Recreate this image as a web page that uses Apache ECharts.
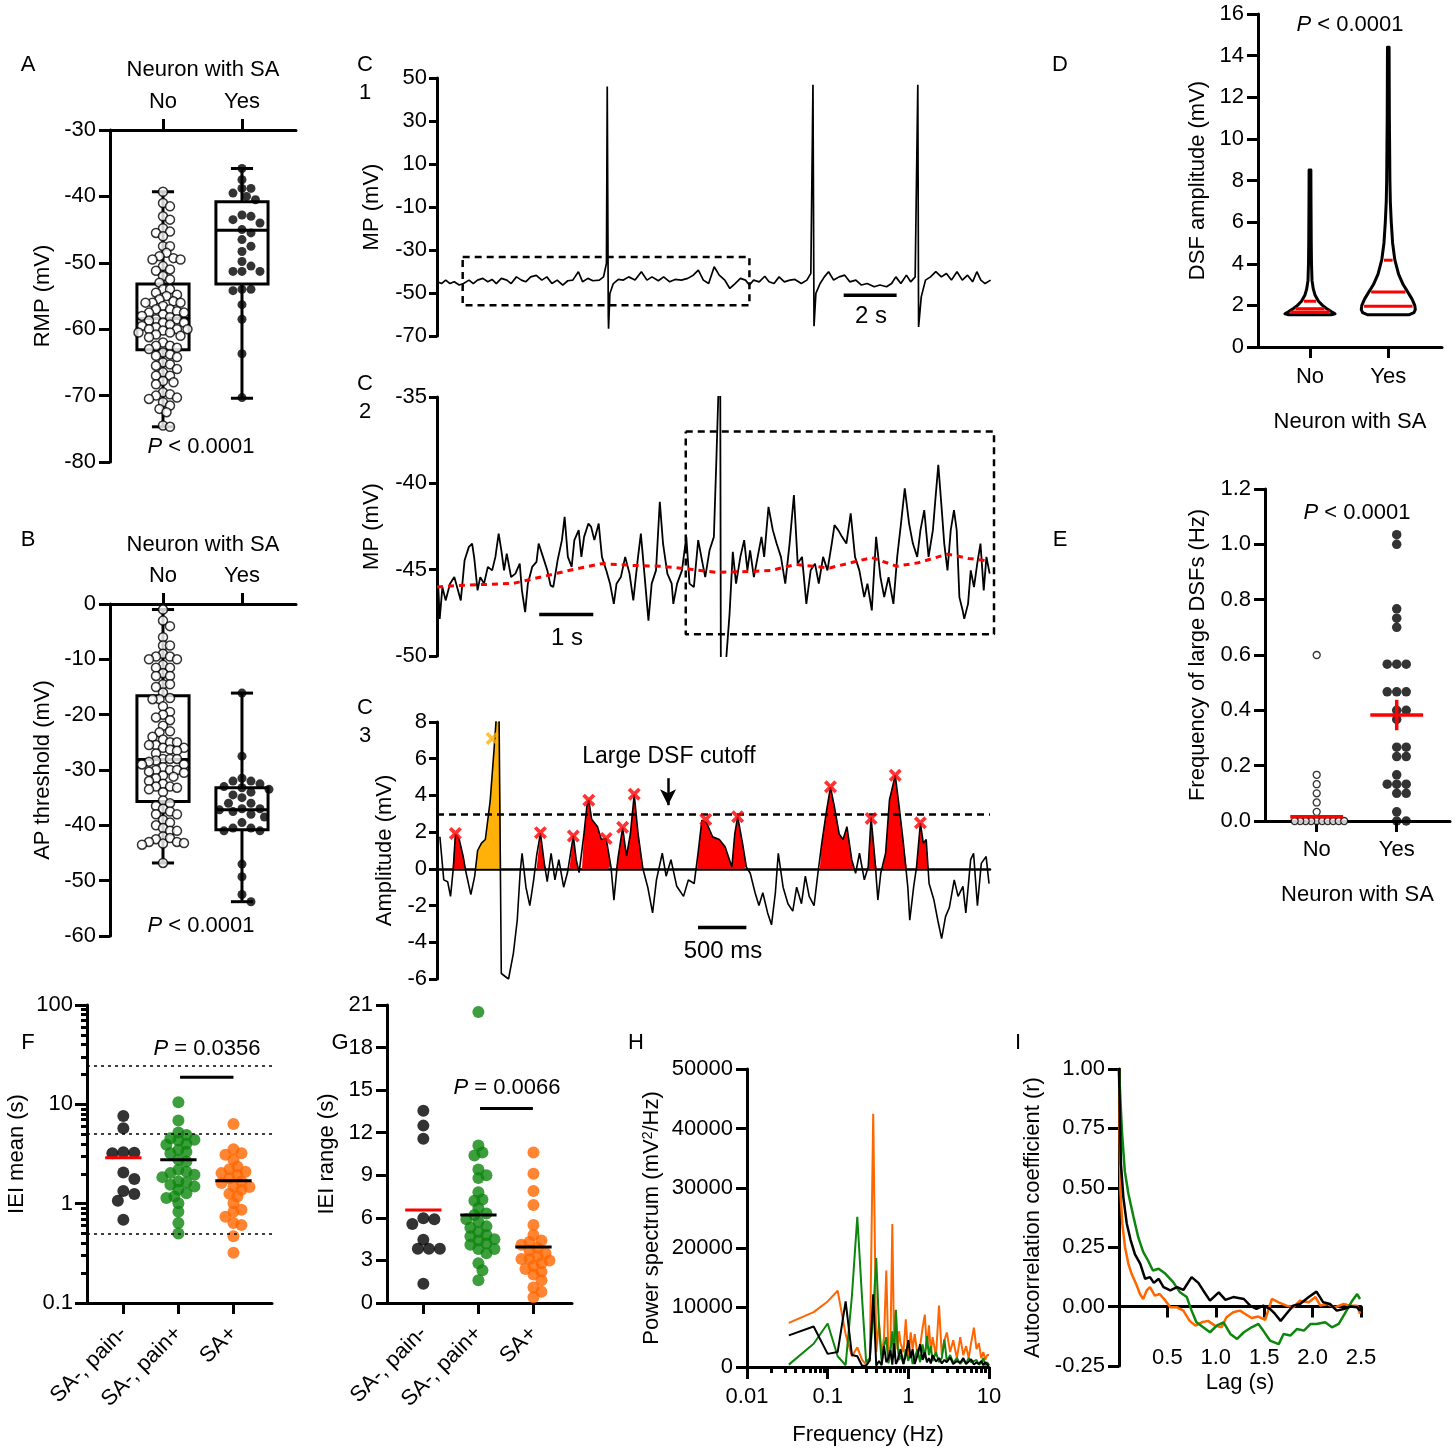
<!DOCTYPE html>
<html><head><meta charset="utf-8">
<script src="https://cdn.jsdelivr.net/npm/echarts@6.0.0/dist/echarts.min.js"></script>
<style>html,body{margin:0;padding:0;background:#fff}#c{width:1456px;height:1453px}</style>
</head><body><div id="c"></div>
<script>
// ---------------- DATA ----------------
const groupsNY = ['No', 'Yes'];
const groupsF = ['SA-, pain-', 'SA-, pain+', 'SA+'];

// Panel A: RMP (mV)
const aNo = [-39.3,-41,-41.5,-43,-43.5,-44.8,-45.3,-45.5,-46,-47.5,-47.5,-48.5,-49,-49.3,-49.5,-49.5,-50.5,-51,-51.2,-52,-52.5,-53,-54,-54,-54.5,-54.8,-55,-55.5,-55.8,-56,-56,-56,-56.5,-57,-57,-57.3,-57.5,-57.5,-57.8,-58,-58.2,-58.5,-58.5,-58.7,-59,-59,-59.3,-59.5,-59.7,-60,-60,-60,-60.2,-60.5,-60.5,-60.8,-61,-61.2,-62,-62.5,-62.5,-62.8,-63,-63.5,-63.8,-64,-64.2,-65,-65.3,-65.5,-66,-66.5,-67,-67,-67.8,-68,-68.3,-69.5,-69.8,-70,-70.3,-70.5,-71,-71.5,-72,-72.5,-74.5,-74.7];
const aYes = [-35.8,-37.5,-38.8,-38.8,-39.5,-40,-40.5,-42.8,-43,-43.5,-44,-45,-45.5,-46.5,-47.5,-48.3,-49.8,-50.5,-51.3,-51.3,-51.3,-54,-54,-54.2,-56.3,-58.5,-63.7,-70.3];
const aBoxNo = [-74.7,-63.1,-58.4,-53.2,-39.3];   // min, Q1, median, Q3, max
const aBoxYes = [-70.4,-53.2,-45.1,-40.8,-35.8];

// Panel B: AP threshold (mV)
const bNo = [-1,-3,-4,-6,-7.5,-7.5,-9,-9.5,-9.5,-10,-10,-11,-11.5,-11.5,-12.5,-13,-13,-14.5,-14.5,-15,-16,-17,-17.2,-17.2,-18.5,-19.5,-20,-20.5,-21,-22,-23,-23.2,-24,-24.5,-25,-25,-25.5,-25.5,-26,-26,-26.3,-26.5,-27,-28,-28,-28,-28.3,-28.5,-29,-29,-29.5,-30,-30,-30,-30.3,-30.5,-31,-31.2,-31.5,-32,-32.5,-33,-33,-33.2,-33.5,-34,-35.5,-36,-36.5,-37,-37.5,-38,-38,-39,-39.5,-40,-40.5,-41,-41,-42,-42.3,-42.5,-43,-43,-43.2,-43.3,-43.5,-46.8];
const bYes = [-16.1,-27.5,-31.5,-32,-32,-32.5,-33,-33.2,-33.5,-34,-34.5,-35,-36,-36,-37,-37,-37.2,-37.5,-38,-38.5,-39.5,-40.5,-40.5,-41,-41,-47,-49.3,-52.5,-53.8];
const bBoxNo = [-46.8,-35.7,-28.1,-16.6,-1.0];
const bBoxYes = [-53.8,-40.8,-37.2,-33.2,-16.1];

// Panel C1: membrane potential trace (s, mV)
const c1T = [0.02,0.17,0.33,0.49,0.65,0.84,1.00,1.21,1.37,1.53,1.73,1.92,2.08,2.24,2.43,2.64,2.80,3.00,3.19,3.35,3.54,3.75,3.96,4.15,4.34,4.54,4.75,4.94,5.13,5.34,5.50,5.70,5.89,6.13,6.29,6.40,6.43,6.47,6.48,6.53,6.66,6.85,7.04,7.24,7.48,7.72,7.93,8.12,8.36,8.56,8.79,8.99,9.23,9.47,9.68,9.87,10.06,10.26,10.47,10.66,10.87,11.06,11.26,11.46,11.65,11.80,11.96,12.17,12.38,12.54,12.73,12.92,13.12,13.33,13.52,13.76,13.97,14.12,14.20,14.24,14.31,14.47,14.63,14.79,14.98,15.19,15.40,15.59,15.82,16.03,16.25,16.51,16.73,16.98,17.17,17.33,17.52,17.73,17.89,18.06,18.16,18.19,18.29,18.45,18.64,18.84,19.05,19.24,19.43,19.64,19.84,20.04,20.23,20.39,20.54,20.70,20.91];
const c1V = [-44.8,-45.6,-44.0,-45.6,-44.8,-46.3,-45.6,-44.0,-45.6,-44.0,-43.2,-44.8,-43.7,-45.6,-43.2,-44.0,-45.6,-42.5,-44.0,-44.8,-42.5,-41.8,-44.0,-42.5,-45.6,-44.0,-46.3,-44.3,-44.0,-40.1,-44.8,-43.2,-44.3,-44.0,-42.5,-36.2,46.1,-61.1,-66.6,-50.2,-45.6,-43.7,-44.0,-42.5,-44.0,-40.1,-44.0,-42.5,-44.3,-42.5,-44.8,-43.7,-44.0,-43.2,-41.7,-39.4,-44.0,-45.6,-37.8,-41.7,-44.0,-47.9,-45.6,-43.2,-44.0,-46.3,-44.0,-44.8,-42.2,-44.8,-45.6,-42.5,-44.8,-44.0,-43.7,-45.6,-44.0,-40.9,46.9,-65.5,-50.2,-45.6,-42.5,-40.1,-44.0,-42.5,-41.7,-44.8,-44.0,-46.3,-45.6,-47.1,-46.3,-47.1,-45.6,-42.5,-45.6,-41.7,-44.8,-42.5,46.9,-65.8,-51.8,-44.0,-42.5,-40.1,-42.5,-40.9,-44.0,-40.1,-44.0,-41.7,-44.8,-40.1,-44.0,-45.6,-44.0];
const c1Box = [0.97, 11.8, -55.7, -33.2];   // t0, t1, v0, v1 (zoomed window)
const c1Bar = [15.36, 17.36, -51];          // 2 s scale bar

// Panel C2: zoomed trace (s, mV) and smoothed baseline
const c2T = [0.01,0.05,0.10,0.16,0.24,0.32,0.38,0.44,0.51,0.59,0.65,0.69,0.75,0.80,0.87,0.94,1.02,1.08,1.14,1.19,1.24,1.29,1.37,1.45,1.53,1.57,1.63,1.68,1.76,1.84,1.88,1.96,2.04,2.10,2.15,2.23,2.31,2.36,2.42,2.49,2.54,2.62,2.67,2.72,2.80,2.85,2.91,2.99,3.05,3.13,3.20,3.27,3.32,3.40,3.48,3.56,3.63,3.71,3.77,3.83,3.91,3.97,4.05,4.12,4.18,4.26,4.34,4.37,4.44,4.53,4.61,4.67,4.75,4.83,4.90,4.96,5.04,5.12,5.17,5.22,5.235,5.25,5.30,5.35,5.41,5.47,5.53,5.61,5.68,5.74,5.79,5.86,5.93,6.00,6.05,6.13,6.21,6.28,6.36,6.44,6.52,6.60,6.67,6.75,6.83,6.91,6.99,7.06,7.14,7.22,7.30,7.35,7.42,7.49,7.57,7.65,7.73,7.81,7.90,7.96,8.04,8.12,8.20,8.27,8.35,8.44,8.51,8.58,8.65,8.73,8.80,8.88,8.94,9.01,9.09,9.17,9.22,9.27,9.33,9.38,9.44,9.50,9.56,9.61,9.66,9.72,9.75,9.82,9.87,9.93,9.99,10.05,10.11,10.16,10.22];
const c2V = [-45.04,-47.85,-46.01,-46.78,-45.81,-45.43,-46.10,-46.78,-44.46,-43.68,-43.49,-44.36,-46.20,-45.43,-45.81,-44.84,-45.04,-44.26,-42.91,-43.88,-45.04,-44.07,-45.43,-45.23,-44.65,-46.20,-47.46,-45.81,-44.84,-44.55,-43.49,-44.26,-45.04,-45.91,-46.01,-44.46,-43.29,-41.94,-44.26,-44.84,-43.29,-42.71,-44.26,-43.10,-42.33,-42.52,-43.29,-42.33,-44.26,-45.04,-45.81,-46.98,-45.81,-45.43,-44.26,-45.23,-46.78,-44.46,-42.91,-45.04,-47.95,-45.81,-45.04,-41.07,-43.49,-45.23,-45.81,-46.98,-45.81,-45.04,-43.10,-45.81,-46.01,-43.29,-44.46,-45.43,-43.88,-43.10,-38.26,-33.0,-30.0,-52.0,-52.0,-50.08,-47.56,-43.97,-45.81,-44.26,-43.29,-45.04,-43.88,-45.43,-44.26,-43.10,-44.26,-41.36,-42.71,-43.49,-44.26,-45.81,-43.49,-40.68,-44.65,-44.26,-46.98,-45.04,-44.65,-45.81,-44.26,-45.04,-43.49,-42.42,-42.71,-43.10,-43.49,-41.74,-44.26,-45.04,-46.59,-45.81,-47.36,-43.10,-45.43,-46.59,-45.43,-46.98,-44.26,-42.33,-40.29,-42.33,-43.49,-44.26,-42.71,-41.55,-44.26,-42.71,-40.78,-38.93,-41.36,-43.49,-45.04,-42.71,-41.55,-42.71,-46.59,-47.36,-47.85,-46.98,-45.04,-46.01,-44.65,-43.49,-46.20,-44.26,-45.23];
const c2BaseT = [0,0.5,1.4,1.96,2.5,3.05,3.6,4.14,4.76,5.15,5.85,6.17,6.63,7.26,7.65,8.04,8.5,8.9,9.44,9.83,10.2];
const c2BaseV = [-46.0,-45.9,-45.8,-45.4,-45.0,-44.65,-44.75,-44.8,-45.0,-45.15,-45.1,-45.05,-44.7,-44.9,-44.6,-44.3,-44.8,-44.6,-44.1,-44.35,-44.5];
const c2Box = [4.6, 10.3, -48.74, -37.0];
const c2Bar = [1.89, 2.89, -47.6];          // 1 s scale bar

// Panel C3: detrended amplitude (s, mV)
const c3T = [0.03,0.07,0.11,0.14,0.17,0.19,0.23,0.27,0.30,0.35,0.39,0.42,0.46,0.50,0.55,0.59,0.61,0.64,0.66,0.665,0.74,0.79,0.83,0.86,0.88,0.92,0.96,1.00,1.03,1.07,1.11,1.14,1.18,1.22,1.26,1.31,1.35,1.41,1.44,1.47,1.52,1.55,1.57,1.60,1.66,1.70,1.75,1.80,1.83,1.87,1.92,1.96,2.00,2.04,2.08,2.13,2.18,2.23,2.27,2.33,2.37,2.42,2.48,2.55,2.60,2.66,2.70,2.74,2.79,2.85,2.92,2.98,3.05,3.08,3.11,3.16,3.20,3.24,3.29,3.33,3.37,3.42,3.46,3.50,3.53,3.58,3.63,3.68,3.72,3.77,3.81,3.85,3.90,3.94,3.98,4.03,4.07,4.11,4.16,4.20,4.24,4.29,4.33,4.37,4.42,4.46,4.49,4.53,4.56,4.59,4.64,4.68,4.74,4.78,4.82,4.87,4.89,4.93,4.96,5.00,5.03,5.06,5.09,5.14,5.18,5.22,5.26,5.30,5.35,5.39,5.44,5.47,5.52,5.55,5.59,5.63,5.68,5.71];
const c3V = [1.75,-0.6,-0.7,-1.5,0.1,1.9,1.6,0.7,-0.2,-1.4,-0.4,1.0,1.4,1.6,3.7,6.5,8.0,9.5,9.5,-5.7,-6.0,-4.6,-2.8,-0.2,0.85,-1.0,-2.0,-0.6,0.7,1.95,0.3,-0.7,0.85,-0.6,0.5,-1.0,-0.2,1.8,0.5,-0.2,1.9,3.4,3.75,2.7,2.3,1.6,1.65,0.1,-1.7,0.5,2.25,0.7,1.9,4.05,1.9,0.0,-1.0,-2.4,-0.6,0.85,-0.4,0.5,-0.95,-1.5,-0.6,-0.8,0.85,2.65,2.5,1.75,1.6,1.2,0.1,1.9,2.85,1.4,0.1,-0.24,-1.3,-2.0,-1.3,-2.4,-3.05,-1.3,0.85,-1.0,-1.9,-2.3,-1.0,-1.9,-0.4,-1.5,-2.0,-0.24,1.4,3.2,4.45,3.4,1.9,1.6,2.3,0.5,-0.24,0.85,-0.6,0.1,2.8,0.5,-1.7,-0.24,0.85,3.75,5.1,3.4,1.6,-1.0,-2.8,-1.0,0.1,2.5,1.4,1.6,-0.8,-1.7,-2.8,-3.8,-2.6,-2.1,-0.6,-1.5,-0.95,-2.4,0.5,0.85,-2.0,0.3,0.67,-0.8];
const c3Windows = [[0.16,0.29],[1.03,1.13],[1.37,1.46],[1.50,1.82],[1.85,2.13],[2.69,3.21],[3.96,4.31],[4.46,4.55],[4.61,4.86],[4.96,5.08]];
const c3SpikeWindow = [0.40, 0.665];
const c3PeakT = [0.19,1.07,1.41,1.57,1.75,1.92,2.04,2.78,3.11,4.07,4.49,4.74,5.00];
const c3PeakV = [1.93,1.97,1.79,3.74,1.66,2.26,4.07,2.69,2.84,4.47,2.75,5.1,2.51];
const c3SpikePeak = [0.57, 7.1];
const c3Cutoff = 3;
const c3Arrow = [2.39, 4.94, 3.47];
const c3Bar = [2.70, 3.20, -3.2];           // 500 ms scale bar

// Panel D: violin profiles (level mV, relative density) and quartiles
const dNoLevels = [1.55,1.6,1.7,1.85,2.0,2.2,2.5,2.8,3.2,4.0,5.0,6.0,7.0,8.5];
const dNoDensity = [0.85,1.0,0.85,0.66,0.5,0.34,0.2,0.13,0.08,0.06,0.05,0.045,0.04,0.035];
const dNoQuart = [1.68,1.84,2.2];
const dYesLevels = [1.55,1.65,1.8,2.0,2.3,2.6,3.0,3.5,4.2,5.0,6.0,7.0,8.0,9.5,11,12.5,14.4];
const dYesDensity = [0.78,0.95,1.0,0.98,0.88,0.74,0.55,0.38,0.24,0.16,0.11,0.075,0.06,0.05,0.04,0.035,0.03];
const dYesQuart = [1.96,2.64,4.17];

// Panel E: frequency of large DSFs (Hz)
const eNo = [0.6,0.167,0.133,0.1,0.067,0.033,0,0,0,0,0,0,0,0,0,0];
const eYes = [1.035,1.0,0.767,0.733,0.7,0.567,0.567,0.567,0.467,0.467,0.467,0.4,0.4,0.367,0.267,0.267,0.233,0.233,0.167,0.133,0.133,0.133,0.1,0.1,0.033,0,0];
const eMean = [0.015, 0.383];
const eSem = [0.004, 0.055];

// Panel F: IEI mean (s)
const fBlack = [7.65,5.74,3.22,3.25,3.29,2.06,1.77,1.34,1.25,1.07,0.69];
const fGreen = [10.5,6.86,5.2,4.92,4.56,4.39,4.32,4.0,3.91,3.48,3.34,3.22,2.76,2.65,2.19,2.10,2.03,1.95,1.85,1.67,1.63,1.55,1.49,1.38,1.27,1.18,1.14,1.01,0.83,0.64,0.50];
const fOrange = [6.35,3.53,3.22,3.10,2.76,2.36,2.22,2.10,2.03,1.95,1.80,1.67,1.61,1.49,1.47,1.38,1.26,1.18,1.01,0.87,0.83,0.74,0.64,0.61,0.47,0.32];
const fMeans = [2.9, 2.76, 1.7];
const fGuides = [24.5, 5, 0.5];
const fSig = [2.03, 3.0, 18.7];

// Panel G: IEI range (s)
const gBlack = [13.54,12.5,11.57,5.91,5.98,5.56,4.46,3.82,3.82,3.82,1.36];
const gGreen = [20.5,11.1,10.6,10.4,9.4,9.0,8.8,7.8,7.3,7.2,6.7,6.3,6.2,5.9,5.7,5.4,5.3,5.0,4.8,4.7,4.5,4.4,4.2,4.1,3.8,3.8,3.5,2.8,2.3,1.6];
const gOrange = [10.6,9.1,7.9,6.9,5.5,4.8,4.4,4.3,4.1,3.9,3.7,3.5,3.3,3.1,3.1,3.0,2.8,2.6,2.4,2.2,2.0,1.6,1.1,0.8,0.4];
const gMeans = [6.55, 6.2, 3.95];
const gSig = [2.03, 2.99, 13.7];

// Panel H: power spectra (Hz, mV^2/Hz)
const hFreq = [0.033,0.067,0.1,0.133,0.167,0.2,0.233,0.267,0.3,0.333,0.367,0.4,0.433,0.467,0.5,0.533,0.567,0.6,0.633,0.667,0.7,0.733,0.767,0.8,0.87,0.93,1.0,1.07,1.13,1.2,1.3,1.4,1.5,1.6,1.7,1.8,1.9,2.0,2.2,2.4,2.6,2.8,3.0,3.3,3.6,4.0,4.4,4.8,5.2,5.6,6.0,6.5,7.0,7.5,8.0,8.5,9.0,9.5,10];
const hOrange = [7400,9200,11000,12800,5500,1800,3300,1200,400,1500,42500,2500,7500,2000,5000,16200,1500,3500,24000,2500,9500,3000,6000,4000,2500,8000,1500,5800,3000,5500,2000,3500,6500,8800,3000,7000,2500,5000,1800,10300,2000,4500,5800,2500,4500,1500,5000,2000,3500,1500,4000,6600,3000,4000,1500,2500,1200,2000,2000];
const hGreen = [400,3900,7300,1800,300,12000,25200,11500,800,1500,9000,18300,7000,800,3500,5000,600,2500,6000,1500,9600,4000,1200,2000,500,3000,1000,2500,500,1500,3000,800,3800,1500,5200,2000,3500,1000,2500,800,1500,4600,1000,2000,700,1500,500,1200,600,1500,800,1000,1200,400,700,1500,300,800,300];
const hBlack = [5300,6800,2200,2500,11000,2000,1800,200,200,1100,12200,200,1000,300,3500,800,1500,2800,400,4000,500,1000,700,3000,500,2000,4500,1500,3000,500,2000,3800,1200,2500,800,1500,600,2000,900,1500,600,1200,800,1600,500,1000,700,1500,500,900,1300,400,800,500,1000,300,800,400,200];

// Panel I: autocorrelation (lag s, r)
const iBlackT = [0,0.02,0.045,0.08,0.12,0.165,0.22,0.27,0.32,0.36,0.41,0.46,0.53,0.6,0.665,0.75,0.82,0.87,0.94,1.03,1.1,1.18,1.29,1.355,1.42,1.49,1.56,1.61,1.67,1.73,1.80,1.87,1.96,2.04,2.11,2.18,2.25,2.32,2.39,2.46,2.49];
const iBlackV = [1.0,0.60,0.46,0.35,0.28,0.22,0.18,0.117,0.124,0.10,0.117,0.082,0.068,0.082,0.07,0.124,0.10,0.068,0.025,0.06,0.028,0.04,0.032,0.004,-0.01,0.004,-0.01,-0.03,-0.06,-0.03,0.004,0.011,0.04,0.063,0.018,0.011,-0.017,-0.01,0,-0.003,-0.017];
const iGreenT = [0,0.03,0.06,0.097,0.15,0.2,0.25,0.30,0.35,0.41,0.48,0.56,0.63,0.7,0.75,0.80,0.87,0.94,1.01,1.08,1.15,1.22,1.29,1.37,1.44,1.49,1.56,1.65,1.70,1.77,1.84,1.91,1.98,2.04,2.13,2.2,2.27,2.34,2.41,2.46,2.49];
const iGreenV = [1.0,0.74,0.57,0.475,0.377,0.29,0.23,0.194,0.152,0.159,0.138,0.103,0.06,0.04,-0.017,-0.066,-0.087,-0.108,-0.08,-0.066,-0.115,-0.136,-0.108,-0.087,-0.073,-0.101,-0.143,-0.158,-0.115,-0.122,-0.094,-0.101,-0.073,-0.073,-0.066,-0.087,-0.073,-0.024,0.025,0.053,0.032];
const iOrangeT = [0,0.014,0.034,0.062,0.097,0.13,0.176,0.217,0.25,0.286,0.32,0.37,0.42,0.48,0.53,0.6,0.665,0.73,0.79,0.855,0.92,0.99,1.06,1.11,1.18,1.25,1.30,1.37,1.44,1.51,1.58,1.65,1.73,1.8,1.87,1.96,2.03,2.08,2.15,2.23,2.32,2.39,2.46,2.49];
const iOrangeV = [1.0,0.49,0.35,0.25,0.18,0.138,0.096,0.053,0.032,0.068,0.082,0.046,0.053,0.025,-0.003,-0.003,-0.017,-0.06,-0.08,-0.066,-0.06,-0.08,-0.087,-0.045,-0.024,-0.017,-0.03,-0.048,-0.042,-0.056,0.032,0.018,0.004,-0.003,0.025,0.018,0.04,0.004,0.011,-0.003,0.011,0.004,0.004,-0.03];

// ---------------- STYLE / HELPERS ----------------
const FONT = "'Liberation Sans', Arial, Helvetica, sans-serif";
const GREEN = '#0c860c', ORANGE = '#ff6600', RED = '#ff0000', AMBER = '#ffb10a';
const zip = (a, b) => a.map((v, i) => [v, b[i]]);
function merge(a, b) {
  const o = Object.assign({}, a);
  for (const k in b) {
    if (b[k] && typeof b[k] === 'object' && !Array.isArray(b[k]) && a[k] && typeof a[k] === 'object' && !Array.isArray(a[k])) o[k] = merge(a[k], b[k]);
    else o[k] = b[k];
  }
  return o;
}
const AX = {
  type: 'value', splitLine: {show: false},
  axisLine: {show: true, onZero: false, lineStyle: {color: '#000', width: 3}},
  axisTick: {show: true, length: 11, lineStyle: {color: '#000', width: 3}},
  axisLabel: {color: '#000', fontSize: 22, fontFamily: FONT, margin: 14},
  nameLocation: 'middle', nameTextStyle: {color: '#000', fontSize: 22, fontFamily: FONT}
};
const ax = (gi, o) => merge(merge(AX, {gridIndex: gi}), o);
const logLabel = v => String(+(+v).toPrecision(3));
function minorLog(lo, hi) { const out = []; for (let e = lo; e < hi; e++) for (let m = 2; m <= 9; m++) out.push(+(m * Math.pow(10, e)).toPrecision(3)); return out; }

// beeswarm: offsets computed in pixel space so dots do not overlap too much
function swarm(vals, cx, ppuX, ppuY, d, logY) {
  const idx = vals.map((v, i) => i).sort((a, b) => vals[b] - vals[a]);
  const placed = [], out = [];
  idx.forEach(i => {
    const y = (logY ? Math.log10(vals[i]) : vals[i]) * ppuY;
    let best = 0;
    for (let s = 0; s < 400; s++) {
      const k = Math.ceil(s / 2), c = s === 0 ? 0 : (s % 2 === 1 ? 1 : -1) * k * d * 0.5;
      if (placed.every(q => { const dx = q[0] - c, dy = q[1] - y; return dx * dx + dy * dy >= d * d * 0.9; })) { best = c; break; }
    }
    placed.push([best, y]);
    out.push([cx + best / ppuX, vals[i]]);
  });
  return out;
}
function interp(xs, ys, x) {
  for (let i = 0; i < xs.length - 1; i++) if (x >= xs[i] && x <= xs[i + 1]) return ys[i] + (ys[i + 1] - ys[i]) * (x - xs[i]) / (xs[i + 1] - xs[i]);
  return ys[ys.length - 1];
}
const lineS = (gi, data, color, width, extra) => Object.assign({type: 'line', xAxisIndex: gi, yAxisIndex: gi, data, symbol: 'none', showSymbol: false, clip: true, silent: true, lineStyle: {color, width}, z: 3}, extra || {});
function boxRender(params, api) {
  const x = api.value(0), mn = api.value(1), q1 = api.value(2), md = api.value(3), q3 = api.value(4), mx = api.value(5);
  const L = (x1, y1, x2, y2) => { const a = api.coord([x1, y1]), b = api.coord([x2, y2]); return {type: 'line', shape: {x1: a[0], y1: a[1], x2: b[0], y2: b[1]}, style: {stroke: '#000', lineWidth: 3}}; };
  const hw = 0.33, cw = 0.14;
  const tl = api.coord([x - hw, q3]), br = api.coord([x + hw, q1]);
  return {type: 'group', children: [
    {type: 'rect', shape: {x: tl[0], y: tl[1], width: br[0] - tl[0], height: br[1] - tl[1]}, style: {fill: 'none', stroke: '#000', lineWidth: 3}},
    L(x - hw, md, x + hw, md), L(x, q3, x, mx), L(x, q1, x, mn), L(x - cw, mx, x + cw, mx), L(x - cw, mn, x + cw, mn)]};
}
const boxS = (gi, boxes) => ({type: 'custom', xAxisIndex: gi, yAxisIndex: gi, silent: true, z: 2, data: boxes.map((b, i) => [i + 1].concat(b)), renderItem: boxRender});
const openDot = {color: '#fff', borderColor: '#000', borderWidth: 1.5};
const dotS = (gi, data, size, style, z) => ({type: 'scatter', xAxisIndex: gi, yAxisIndex: gi, data, symbolSize: size, itemStyle: style, silent: true, z: z || 4});
function meanS(gi, means, colors, hw) {
  return {type: 'custom', xAxisIndex: gi, yAxisIndex: gi, silent: true, z: 6, data: means.map((m, i) => [i + 1, m]),
    renderItem: (p, api) => { const x = api.value(0), y = api.value(1); const a = api.coord([x - hw, y]), b = api.coord([x + hw, y]);
      return {type: 'line', shape: {x1: a[0], y1: a[1], x2: b[0], y2: b[1]}, style: {stroke: colors[p.dataIndex], lineWidth: 3}}; }};
}
const XSYM = 'path://M0,2L2,0L5,3L8,0L10,2L7,5L10,8L8,10L5,7L2,10L0,8L3,5Z';

// fill series for C3 (trace parts inside event windows, clipped at 0)
function fillData(win) {
  const out = [[win[0], 0]];
  c3T.forEach((t, i) => { if (t > win[0] && t < win[1]) out.push([t, Math.max(0, c3V[i])]); });
  out.push([win[1], 0]);
  return out;
}

// ---------------- LAYOUT ----------------
const grids = [
  {left: 110, top: 130, width: 186, height: 332},  // A
  {left: 110, top: 604, width: 186, height: 332},  // B
  {left: 437, top: 78, width: 556, height: 258},   // C1
  {left: 437, top: 397, width: 557, height: 259},  // C2
  {left: 437, top: 722, width: 553, height: 257},  // C3
  {left: 1258, top: 14, width: 184, height: 333},  // D
  {left: 1265, top: 489, width: 185, height: 332}, // E
  {left: 87, top: 1005, width: 185, height: 298},  // F
  {left: 387, top: 1005, width: 185, height: 298}, // G
  {left: 747, top: 1069, width: 242, height: 298}, // H
  {left: 1119, top: 1069, width: 242, height: 297} // I
].map(g => Object.assign({outerBoundsMode: 'none', containLabel: false}, g));

const catNY = (gi, min, max, extra) => ax(gi, merge({min, max, axisTick: {customValues: [1, 2]}, axisLabel: {customValues: [1, 2], formatter: v => groupsNY[Math.round(v) - 1] || ''}}, extra));
const catF = (gi) => ax(gi, {min: 0.34, max: 3.70, axisTick: {customValues: [1, 2, 3]}, axisLabel: {customValues: [1, 2, 3], rotate: 45, margin: 27, formatter: v => groupsF[Math.round(v) - 1] || ''}});

const xAxis = [
  catNY(0, 0.329, 2.684, {position: 'top', axisLabel: {margin: 17}, name: 'Neuron with SA', nameGap: 49}),
  catNY(1, 0.329, 2.684, {position: 'top', axisLabel: {margin: 17}, name: 'Neuron with SA', nameGap: 48}),
  {gridIndex: 2, type: 'value', min: 0, max: 21, show: false},
  {gridIndex: 3, type: 'value', min: 0, max: 10.3, show: false},
  ax(4, {min: 0, max: 5.72, axisLine: {onZero: true, lineStyle: {width: 2.5}}, axisTick: {show: false}, axisLabel: {show: false}}),
  catNY(5, 0.336, 2.686, {axisLabel: {margin: 19}, name: 'Neuron with SA', nameGap: 64}),
  catNY(6, 0.354, 2.666, {axisLabel: {margin: 18}, name: 'Neuron with SA', nameGap: 63}),
  catF(7), catF(8),
  ax(9, {type: 'log', logBase: 10, min: 0.01, max: 10, axisTick: {length: 12}, axisLabel: {margin: 19, formatter: logLabel}, name: 'Frequency (Hz)', nameGap: 57}),
  ax(10, {min: 0, max: 2.5, interval: 0.5, axisLine: {onZero: true}, axisLabel: {margin: -19, formatter: v => v === 0 ? '' : v.toFixed(1)}, name: 'Lag (s)', nameGap: 6}),
  ax(9, {type: 'log', logBase: 10, min: 0.01, max: 10, position: 'bottom', axisLine: {show: false}, axisTick: {customValues: minorLog(-2, 1), length: 6}, axisLabel: {show: false}})
];
const cY = {axisTick: {length: 8}, axisLabel: {margin: 10}};
const yAxis = [
  ax(0, {min: -80, max: -30, interval: 10, name: 'RMP (mV)', nameGap: 56}),
  ax(1, {min: -60, max: 0, interval: 10, name: 'AP threshold (mV)', nameGap: 56}),
  ax(2, merge(cY, {min: -70, max: 50, interval: 20, name: 'MP (mV)', nameGap: 54})),
  ax(3, merge(cY, {min: -50, max: -35, interval: 5, name: 'MP (mV)', nameGap: 54})),
  ax(4, merge(cY, {min: -6, max: 8, interval: 2, name: 'Amplitude (mV)', nameGap: 41})),
  ax(5, {min: 0, max: 16, interval: 2, name: 'DSF amplitude (mV)', nameGap: 49}),
  ax(6, {min: 0, max: 1.2, interval: 0.2, axisLabel: {formatter: v => v.toFixed(1)}, name: 'Frequency of large DSFs (Hz)', nameGap: 56}),
  ax(7, {type: 'log', logBase: 10, min: 0.1, max: 100, axisTick: {length: 12}, axisLabel: {formatter: logLabel}, name: 'IEI mean (s)', nameGap: 59}),
  ax(8, {min: 0, max: 21, interval: 3, name: 'IEI range (s)', nameGap: 49}),
  ax(9, {min: 0, max: 50000, interval: 10000, axisLabel: {formatter: v => String(v)}, name: 'Power spectrum (mV{s|2}/Hz)', nameGap: 84,
    nameTextStyle: {rich: {s: {fontSize: 14, fontFamily: FONT, color: '#000', verticalAlign: 'top', lineHeight: 14}}}}),
  ax(10, {min: -0.25, max: 1, interval: 0.25, axisLabel: {formatter: v => v.toFixed(2)}, name: 'Autocorrelation coefficient (r)', nameGap: 75}),
  ax(7, {type: 'log', logBase: 10, min: 0.1, max: 100, position: 'left', axisLine: {show: false}, axisTick: {customValues: minorLog(-1, 2), length: 6}, axisLabel: {show: false}})
];

// ---------------- SERIES ----------------
const dash = [7, 5];
const series = [];
// A, B
series.push(boxS(0, [aBoxNo, aBoxYes]));
series.push(dotS(0, swarm(aNo, 1, 79, 6.64, 7), 9, openDot));
series.push(dotS(0, swarm(aYes, 2, 79, 6.64, 9), 9, {color: '#000'}));
series.push(boxS(1, [bBoxNo, bBoxYes]));
series.push(dotS(1, swarm(bNo, 1, 79, 5.533, 7), 9, openDot));
series.push(dotS(1, swarm(bYes, 2, 79, 5.533, 9), 9, {color: '#000'}));
// C1
series.push(lineS(2, zip(c1T, c1V), '#000', 1.7));
series.push(lineS(2, [[c1Box[0], c1Box[3]], [c1Box[1], c1Box[3]], [c1Box[1], c1Box[2]], [c1Box[0], c1Box[2]], [c1Box[0], c1Box[3]]], '#000', 2.5, {lineStyle: {color: '#000', width: 2.5, type: dash}, z: 4}));
series.push(lineS(2, [[c1Bar[0], c1Bar[2]], [c1Bar[1], c1Bar[2]]], '#000', 3.5));
// C2
series.push(lineS(3, zip(c2T, c2V), '#000', 1.8));
series.push(lineS(3, zip(c2BaseT, c2BaseV), RED, 3, {lineStyle: {color: RED, width: 3, type: [6, 5]}, z: 4}));
series.push(lineS(3, [[c2Box[0], c2Box[3]], [c2Box[1], c2Box[3]], [c2Box[1], c2Box[2]], [c2Box[0], c2Box[2]], [c2Box[0], c2Box[3]]], '#000', 2.5, {lineStyle: {color: '#000', width: 2.5, type: dash}, z: 4}));
series.push(lineS(3, [[c2Bar[0], c2Bar[2]], [c2Bar[1], c2Bar[2]]], '#000', 3.5));
// C3
c3Windows.forEach(w => series.push(lineS(4, fillData(w), RED, 0, {areaStyle: {color: RED, opacity: 1}, z: 2})));
series.push(lineS(4, fillData(c3SpikeWindow), AMBER, 0, {areaStyle: {color: AMBER, opacity: 1}, z: 2}));
series.push(lineS(4, zip(c3T, c3V), '#000', 1.6, {markLine: {silent: true, symbol: 'none', label: {show: false}, lineStyle: {color: '#000', width: 2.5, type: dash}, data: [{yAxis: c3Cutoff}]}}));
series.push(lineS(4, [[c3Bar[0], c3Bar[2]], [c3Bar[1], c3Bar[2]]], '#000', 3.5));
series.push({type: 'scatter', xAxisIndex: 4, yAxisIndex: 4, data: zip(c3PeakT, c3PeakV), symbol: XSYM, symbolSize: 13, itemStyle: {color: RED}, silent: true, z: 6,
  markLine: {silent: true, symbol: ['none', 'arrow'], symbolSize: [12, 16], label: {show: false}, lineStyle: {color: '#000', width: 2.5, type: 'solid'},
    data: [[{coord: [c3Arrow[0], c3Arrow[1]]}, {coord: [c3Arrow[0], c3Arrow[2]]}]]}});
series.push({type: 'scatter', xAxisIndex: 4, yAxisIndex: 4, data: [c3SpikePeak], symbol: XSYM, symbolSize: 13, itemStyle: {color: AMBER}, silent: true, z: 6});
// D violins
const violins = [{x: 1, lev: dNoLevels, w: dNoDensity, q: dNoQuart, hw: 0.32}, {x: 2, lev: dYesLevels, w: dYesDensity, q: dYesQuart, hw: 0.345}];
series.push({type: 'custom', xAxisIndex: 5, yAxisIndex: 5, silent: true, z: 3, data: violins.map(v => [v.x, v.lev[0]]),
  renderItem: (p, api) => {
    const v = violins[p.dataIndex];
    const right = v.lev.map((y, i) => api.coord([v.x + v.w[i] * v.hw, y]));
    const left = v.lev.map((y, i) => api.coord([v.x - v.w[i] * v.hw, y])).reverse();
    const kids = [{type: 'polygon', shape: {points: right.concat(left)}, style: {fill: '#fff', stroke: '#000', lineWidth: 3, lineJoin: 'round'}}];
    v.q.forEach(q => {
      const w = Math.max(0.01, interp(v.lev, v.w, q) * v.hw - 0.03);
      const a = api.coord([v.x - w, q]), b = api.coord([v.x + w, q]);
      kids.push({type: 'line', shape: {x1: a[0], y1: a[1], x2: b[0], y2: b[1]}, style: {stroke: RED, lineWidth: 3}});
    });
    return {type: 'group', children: kids};
  }});
// E
series.push(dotS(6, swarm(eNo, 1, 80, 276.2, 5.5), 7, {color: '#fff', borderColor: '#000', borderWidth: 1.3}));
series.push(dotS(6, swarm(eYes, 2, 80, 276.2, 9.5), 9.5, {color: '#000'}));
series.push({type: 'custom', xAxisIndex: 6, yAxisIndex: 6, silent: true, z: 6, data: eMean.map((m, i) => [i + 1, m, eSem[i]]),
  renderItem: (p, api) => {
    const x = api.value(0), m = api.value(1), s = api.value(2), hw = 0.33;
    const a = api.coord([x - hw, m]), b = api.coord([x + hw, m]), c = api.coord([x, m + s]), d = api.coord([x, m - s]);
    return {type: 'group', children: [
      {type: 'line', shape: {x1: a[0], y1: a[1], x2: b[0], y2: b[1]}, style: {stroke: RED, lineWidth: 3.5}},
      {type: 'line', shape: {x1: c[0], y1: c[1], x2: d[0], y2: d[1]}, style: {stroke: RED, lineWidth: 3.5}}]};
  }});
// F
series.push(Object.assign(dotS(7, swarm(fBlack, 1, 55, 99.4, 11, true), 12, {color: '#000'}),
  {markLine: {silent: true, symbol: 'none', label: {show: false}, lineStyle: {color: '#000', width: 1.6, type: [3, 4]}, data: fGuides.map(v => ({yAxis: v}))}}));
series.push(dotS(7, swarm(fGreen, 2, 55, 99.4, 8, true), 12, {color: GREEN}));
series.push(dotS(7, swarm(fOrange, 3, 55, 99.4, 8, true), 12, {color: ORANGE}));
series.push(meanS(7, fMeans, [RED, '#000', '#000'], 0.33));
series.push(lineS(7, [[fSig[0], fSig[2]], [fSig[1], fSig[2]]], '#000', 3));
// G
series.push(dotS(8, swarm(gBlack, 1, 55, 14.2, 11), 12, {color: '#000'}));
series.push(dotS(8, swarm(gGreen, 2, 55, 14.2, 8), 12, {color: GREEN}));
series.push(dotS(8, swarm(gOrange, 3, 55, 14.2, 8), 12, {color: ORANGE}));
series.push(meanS(8, gMeans, [RED, '#000', '#000'], 0.33));
series.push(lineS(8, [[gSig[0], gSig[2]], [gSig[1], gSig[2]]], '#000', 3));
// H
series.push(lineS(9, zip(hFreq, hOrange), ORANGE, 2, {z: 3}));
series.push(lineS(9, zip(hFreq, hGreen), GREEN, 2, {z: 4}));
series.push(lineS(9, zip(hFreq, hBlack), '#000', 2, {z: 5}));
// I
series.push(lineS(10, zip(iOrangeT, iOrangeV), ORANGE, 2.5, {z: 3}));
series.push(lineS(10, zip(iGreenT, iGreenV), GREEN, 2.5, {z: 4}));
series.push(lineS(10, zip(iBlackT, iBlackV), '#000', 2.5, {z: 5}));

// ---------------- FREE TEXT ----------------
const T = (x, y, text, size) => ({type: 'text', x, y, silent: true, z: 100,
  style: {text, fontSize: size || 22, fontFamily: FONT, fill: '#000', align: 'center', verticalAlign: 'middle',
    rich: {p: {fontStyle: 'italic', fontSize: size || 22, fontFamily: FONT, fill: '#000'}}}});
const graphic = [
  T(28, 65, 'A'), T(28, 540, 'B'),
  T(365, 65, 'C'), T(365, 93, '1'), T(365, 384, 'C'), T(365, 412, '2'), T(365, 708, 'C'), T(365, 736, '3'),
  T(1060, 65, 'D'), T(1060, 540, 'E'), T(28, 1043, 'F'), T(340, 1043, 'G'), T(636, 1043, 'H'), T(1018, 1043, 'I'),
  T(201, 447, '{p|P} < 0.0001'), T(201, 926, '{p|P} < 0.0001'), T(1350, 25, '{p|P} < 0.0001'), T(1357, 513, '{p|P} < 0.0001'),
  T(207, 1049, '{p|P} = 0.0356'), T(507, 1088, '{p|P} = 0.0066'),
  T(871, 316, '2 s', 24), T(567, 638, '1 s', 24), T(723, 951, '500 ms', 24), T(669, 757, 'Large DSF cutoff', 23)
];

const chart = echarts.init(document.getElementById('c'), null, {renderer: 'canvas'});
chart.setOption({backgroundColor: '#fff', animation: false, textStyle: {fontFamily: FONT}, grid: grids, xAxis, yAxis, series, graphic});
</script></body></html>
